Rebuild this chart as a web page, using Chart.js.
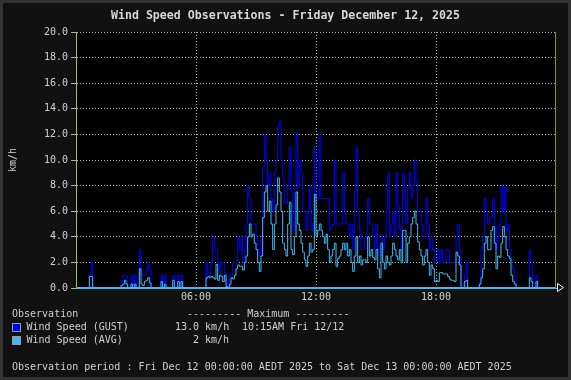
<!DOCTYPE html>
<html><head><meta charset="utf-8">
<script src="https://cdn.jsdelivr.net/npm/chart.js@4/dist/chart.umd.min.js"></script>
<style>
html,body{margin:0;padding:0;background:#111;}
#wrap{position:relative;width:571px;height:380px;background:#111;overflow:hidden;font-family:"DejaVu Sans Mono",monospace;color:#d0d0d0;}
#frame{position:absolute;left:0;top:0;width:571px;height:380px;box-sizing:border-box;border:3px solid #333;pointer-events:none;}
canvas{position:absolute;left:0;top:0;}
.t{position:absolute;white-space:pre;font-size:10px;line-height:12px;}
.box{position:absolute;width:7px;height:7px;border:1px solid #999;}
#title{position:absolute;left:0;top:8px;width:571px;text-align:center;font-size:11.6px;line-height:14px;font-weight:bold;color:#d8d8d8;white-space:pre;}
</style></head>
<body>
<div id="wrap">
<canvas id="c" width="571" height="380"></canvas>
<div id="title">Wind Speed Observations - Friday December 12, 2025</div>
<div class="t" style="left:12px;top:308px">Observation</div>
<div class="t" style="left:187px;top:308px">--------- Maximum ---------</div>
<div class="box" style="left:12px;top:323px;background:#0000ff"></div>
<div class="t" style="left:26.5px;top:321px">Wind Speed (GUST)</div>
<div class="t" style="left:175px;top:321px">13.0 km/h</div>
<div class="t" style="left:242px;top:321px">10:15AM Fri 12/12</div>
<div class="box" style="left:12px;top:336px;background:#40b8f8"></div>
<div class="t" style="left:26.5px;top:334px">Wind Speed (AVG)</div>
<div class="t" style="left:193px;top:334px">2 km/h</div>
<div class="t" style="left:12px;top:360.5px">Observation period : Fri Dec 12 00:00:00 AEDT 2025 to Sat Dec 13 00:00:00 AEDT 2025</div>
<div id="frame"></div>
</div>
<script>
// 5-minute observations, one row per hour (00:00 .. 23:55), km/h
const slotMinutes = 5;
const gust = [
  0,0,0,0,0,0,0,0,1,2,0,0,
  0,0,0,0,0,0,0,0,0,0,0,0,
  0,0,0,0.5,1,1,1,0,0,1,0,1,
  0,0,3,1,1,1,1.4,2,1.4,0,0,0,
  0,0,0,1,0,1,0,0,0,0,1,0,
  0,1,0,1,0,0,0,0,0,0,0,0,
  0,0,0,0,0,0,2,1,1,2,4,3,
  3,2,1.2,2,2,1.2,0.5,0,1,1,2,2,
  2,4,3,4,2,3,5,8,7,5,5,5,
  4,3,2.5,4,9.5,12,10,8,9,7,6,9,
  10,12.6,13,10,8.5,6.6,6.6,8,11,7.5,4.5,8,
  12.1,7.8,10,9,6,6,4.5,6,8,4.5,5,11,
  7,7,12,7,7,7,7,7,4.5,4.8,5,10,
  5,5,5,5,9,6,5,5,4,5,3,7.5,
  11,6,4.5,3,3,4,4,7,5,5,4,3,
  5,3,2.5,4,3,4,6,9,4,5,6,4,
  9,6.5,4.5,3,9,7,5,7.8,9,7,8,10,
  8.5,6,6,5,4,4,7,5,3,4,3,2,
  2.2,3,2,3,2,2,3,3,2,2,2,2,
  4,5,3,0,0,1,2,0,0,0,0,0,
  0,0,0.5,3,4,7,6,5,5.5,5.5,7,5,
  3,4,5,8,6,8,4.5,5,3,2,1.5,1,
  0,0,0,0,0,0,0,0,3,2,0,0,
  1,0,0,0,0,0,0,0,0,0,0,0
];
const avg = [
  0,0,0,0,0,0,0,0,0.9,0.9,0,0,
  0,0,0,0,0,0,0,0,0,0,0,0,
  0,0,0,0.2,0.3,0.6,0.3,0,0,0.3,0,0.3,
  0,0,1.5,0.3,0.2,0.5,0.6,0.8,0.4,0,0,0,
  0,0,0,0.5,0,0.3,0,0,0,0,0.6,0,
  0,0.5,0,0.5,0,0,0,0,0,0,0,0,
  0,0,0,0,0,0,0.8,0.9,0.8,0.9,0.8,0.7,
  1.85,0.6,1.0,0.9,0.5,1.0,0.1,0,0.3,0.8,0.7,1.0,
  1.5,1.8,1.7,1.7,1.4,2.0,2.5,4.0,5.0,4.0,4.2,3.5,
  3.0,2.0,1.3,2.5,5.5,7.5,8.0,6.0,6.8,5.0,3.0,5.0,
  6.5,8.6,7.5,6.0,3.5,3.0,2.5,5.0,6.7,3.0,2.6,4.0,
  7.5,5.0,4.5,3.5,2.8,2.2,1.7,2.5,3.5,2.8,3.0,7.3,
  4.0,4.5,5.0,4.5,4.0,3.5,4.2,3.0,2.0,2.5,3.0,3.5,
  1.7,2.3,2.5,3.0,3.5,3.0,3.5,2.5,3.0,2.0,1.3,2.5,
  4.0,2.0,2.5,1.8,2.2,2.2,2.0,4.0,2.5,3.0,2.4,2.2,
  3.0,1.5,0.8,3.5,2.0,1.5,2.5,2.0,1.8,2.5,3.5,3.0,
  2.5,2.2,3.0,2.0,4.5,4.5,2.0,3.5,4.0,5.0,5.5,6.0,
  5.0,3.6,3.0,2.5,1.8,2.5,3.0,2.0,1.0,1.8,1.5,0.5,
  0.6,0.5,1.2,1.2,1.1,1.1,1.1,0.9,0.7,0.6,0.6,0.5,
  2.8,2.5,1.8,0,0,0.5,0.6,0,0,0,0,0,
  0,0,0.3,0.8,1.5,3.5,4.0,3.0,3.0,4.5,4.8,3.5,
  1.5,2.5,2.4,3.5,4.8,4.0,3.0,2.5,2.3,1.0,0.5,0.3,
  0,0,0,0,0,0,0,0,0.8,0.5,0,0,
  0.5,0,0,0,0,0,0,0,0,0,0,0
];
const xTickValues = [360, 720, 1080];
const xTickLabels = ['06:00', '12:00', '18:00'];
const yTicks = [0,2,4,6,8,10,12,14,16,18,20];

const toPoints = arr => arr.map((v, i) => ({x: i * slotMinutes, y: v}));

Chart.defaults.font.family = '"DejaVu Sans Mono", monospace';
Chart.defaults.font.size = 10;
Chart.defaults.color = '#d0d0d0';

const GRID = '#a0c890';
const AXIS = '#a0c070';
const AVG_COLOR = '#40b8f8';

const deco = {
  id: 'deco',
  beforeDraw(chart) {
    const {ctx, chartArea: a} = chart;
    ctx.save();
    ctx.fillStyle = '#000';
    ctx.fillRect(a.left, a.top, a.right - a.left, a.bottom - a.top);
    ctx.restore();
  },
  afterDraw(chart) {
    const {ctx, chartArea: a} = chart;
    ctx.save();
    ctx.strokeStyle = '#8c8c28';
    ctx.lineWidth = 1;
    ctx.beginPath();
    ctx.moveTo(a.right - 0.5, a.top);
    ctx.lineTo(a.right - 0.5, a.bottom);
    ctx.stroke();
    ctx.strokeStyle = AVG_COLOR;
    ctx.beginPath();
    ctx.moveTo(a.left + 1, a.bottom - 0.5);
    ctx.lineTo(a.right - 1, a.bottom - 0.5);
    ctx.stroke();
    ctx.strokeStyle = '#ffffff';
    ctx.fillStyle = '#111';
    ctx.beginPath();
    ctx.moveTo(a.right + 1.5, a.bottom - 4.5);
    ctx.lineTo(a.right + 7.5, a.bottom - 0.5);
    ctx.lineTo(a.right + 1.5, a.bottom + 3.5);
    ctx.closePath();
    ctx.fill();
    ctx.stroke();
    ctx.restore();
  }
};

new Chart(document.getElementById('c'), {
  type: 'line',
  data: {
    datasets: [
      {label: 'Wind Speed (GUST)', data: toPoints(gust), borderColor: '#0000ff', order: 2},
      {label: 'Wind Speed (AVG)', data: toPoints(avg), borderColor: AVG_COLOR, order: 1}
    ]
  },
  options: {
    responsive: false,
    animation: false,
    devicePixelRatio: 1,
    layout: {padding: {left: 0, top: 32, right: 15, bottom: 72}},
    elements: {
      line: {borderWidth: 1, stepped: true, tension: 0, fill: false},
      point: {radius: 0, hoverRadius: 0}
    },
    plugins: {legend: {display: false}, tooltip: {enabled: false}, title: {display: false}},
    scales: {
      x: {
        type: 'linear', min: 0, max: 1440,
        afterBuildTicks: s => { s.ticks = xTickValues.map(v => ({value: v})); },
        afterFit: s => { s.height = 20; },
        ticks: {
          autoSkip: false, maxRotation: 0, padding: 3, color: '#d0d0d0',
          callback: v => xTickLabels[xTickValues.indexOf(v)]
        },
        grid: {color: GRID, drawTicks: false, lineWidth: 1},
        border: {display: true, color: AVG_COLOR, dash: [1, 2]}
      },
      y: {
        min: 0, max: 20,
        afterBuildTicks: s => { s.ticks = yTicks.map(v => ({value: v})); },
        afterFit: s => { s.width = 76; },
        ticks: {padding: 3, color: '#d0d0d0', callback: v => Number(v).toFixed(1)},
        grid: {color: GRID, tickLength: 5, tickColor: AXIS, tickBorderDash: []},
        border: {display: true, color: AXIS, dash: [1, 2]},
        title: {display: true, text: 'km/h', color: '#d0d0d0', padding: {top: 7, bottom: 0}, font: {size: 10}}
      }
    }
  },
  plugins: [deco]
});
</script>
</body></html>
